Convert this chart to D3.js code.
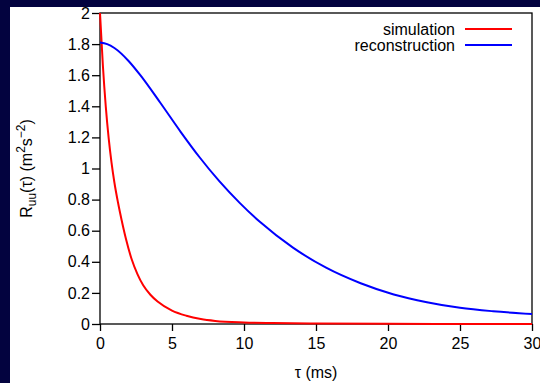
<!DOCTYPE html>
<html>
  <head>
    <title>Autocorrelation: simulation vs reconstruction</title>
    <meta charset="UTF-8">
    <style>
      html, body { margin: 0; padding: 0; background: #03033f; }
      svg { display: block; }
      text { font-family: "Liberation Sans", Arial, Helvetica, sans-serif; font-size: 16px; fill: #000; }
    </style>
  </head>
  <body>

    <svg class="chart"></svg>

    <script src="https://d3js.org/d3.v7.min.js"></script>
    <script>

/* DATA */

// simulation curve, tau in ms
var simTau = [0, 0.2, 0.4, 0.6, 0.8, 1.0, 1.25, 1.5, 1.8, 2.2, 2.6, 3.0, 3.5, 4.0, 5, 6, 7, 8, 10, 12, 15, 20, 25, 30];
var simVal = [2.0, 1.662, 1.40, 1.197, 1.038, 0.910, 0.781, 0.669, 0.548, 0.416, 0.321, 0.249, 0.188, 0.144, 0.086, 0.053, 0.032, 0.020, 0.010, 0.006, 0.003, 0.001, 0.0005, 0.0];

// reconstruction curve
var recTau = [0, 0.5, 1.0, 2.0, 2.8, 4.2, 5.6, 6.9, 8.3, 9.7, 11.1, 13.4, 15.7, 18.1, 20.4, 22.7, 25, 27.3, 30];
var recVal = [1.81, 1.80, 1.775, 1.69, 1.600, 1.421, 1.236, 1.074, 0.917, 0.779, 0.657, 0.491, 0.362, 0.262, 0.190, 0.140, 0.104, 0.082, 0.0645];

var xTicks = [0, 5, 10, 15, 20, 25, 30];
var yTicks = [0, 0.2, 0.4, 0.6, 0.8, 1, 1.2, 1.4, 1.6, 1.8, 2];

var seriesNames = ["simulation", "reconstruction"];
var seriesColors = ["#ff0000", "#0000ff"];

/* LAYOUT */

var width = 540, height = 383;
var margin = {left: 100, top: 13, right: 532, bottom: 324};

var svg = d3.select("svg")
  .attr("width", width)
  .attr("height", height);

// white panel over the navy background
svg.append("rect")
  .attr("x", 10)
  .attr("y", 7)
  .attr("width", width - 10)
  .attr("height", height - 7)
  .attr("fill", "#fff");

var x = d3.scaleLinear().domain([0, 30]).range([margin.left, margin.right]);
var y = d3.scaleLinear().domain([0, 2]).range([margin.bottom, margin.top]);

var xAxis = svg.append("g")
  .attr("transform", "translate(0," + margin.bottom + ")")
  .call(d3.axisBottom(x).tickValues(xTicks).tickSize(7).tickPadding(7).tickFormat(d3.format("d")));

var yAxis = svg.append("g")
  .attr("transform", "translate(" + margin.left + ",0)")
  .call(d3.axisLeft(y).tickValues(yTicks).tickSize(8).tickPadding(2).tickFormat(function(d) { return d3.format("")(d); }));

[xAxis, yAxis].forEach(function(a) {
  a.select(".domain").remove();
  a.selectAll("line").attr("stroke", "#000").attr("stroke-width", 1.3);
  a.selectAll("text").attr("font-size", 16).attr("font-family", null).attr("fill", "#000");
});

// frame
svg.append("rect")
  .attr("x", margin.left)
  .attr("y", margin.top)
  .attr("width", margin.right - margin.left)
  .attr("height", margin.bottom - margin.top)
  .attr("fill", "none")
  .attr("stroke", "#000")
  .attr("stroke-width", 1.3);

/* CURVES */

var line = d3.line()
  .x(function(d) { return x(d[0]); })
  .y(function(d) { return y(d[1]); })
  .curve(d3.curveMonotoneX);

var series = [d3.zip(simTau, simVal), d3.zip(recTau, recVal)];

svg.append("g").selectAll("path")
  .data(series)
  .enter().append("path")
    .attr("d", line)
    .attr("fill", "none")
    .attr("stroke", function(d, i) { return seriesColors[i]; })
    .attr("stroke-width", 2);

/* LEGEND */

var legend = svg.append("g").selectAll("g")
  .data(seriesNames)
  .enter().append("g")
    .attr("transform", function(d, i) { return "translate(0," + (35 + i * 16) + ")"; });

legend.append("text")
  .attr("x", 455)
  .attr("text-anchor", "end")
  .text(function(d) { return d; });

legend.append("line")
  .attr("x1", 465)
  .attr("x2", 512)
  .attr("y1", -6)
  .attr("y2", -6)
  .attr("stroke", function(d, i) { return seriesColors[i]; })
  .attr("stroke-width", 2);

/* AXIS TITLES */

svg.append("text")
  .attr("x", (margin.left + margin.right) / 2)
  .attr("y", 378)
  .attr("text-anchor", "middle")
  .text("\u03c4 (ms)");

var yTitle = svg.append("text")
  .attr("transform", "translate(32," + ((margin.top + margin.bottom) / 2) + ") rotate(-90)")
  .attr("text-anchor", "middle");
yTitle.append("tspan").text("R");
yTitle.append("tspan").attr("font-size", 12).attr("dy", 4).text("uu");
yTitle.append("tspan").attr("dy", -4).text("(\u03c4) (m");
yTitle.append("tspan").attr("font-size", 12).attr("dy", -7).text("2");
yTitle.append("tspan").attr("dy", 7).text("s");
yTitle.append("tspan").attr("font-size", 12).attr("dy", -7).text("\u22122");
yTitle.append("tspan").attr("dy", 7).text(")");

</script>
  </body>
</html>
